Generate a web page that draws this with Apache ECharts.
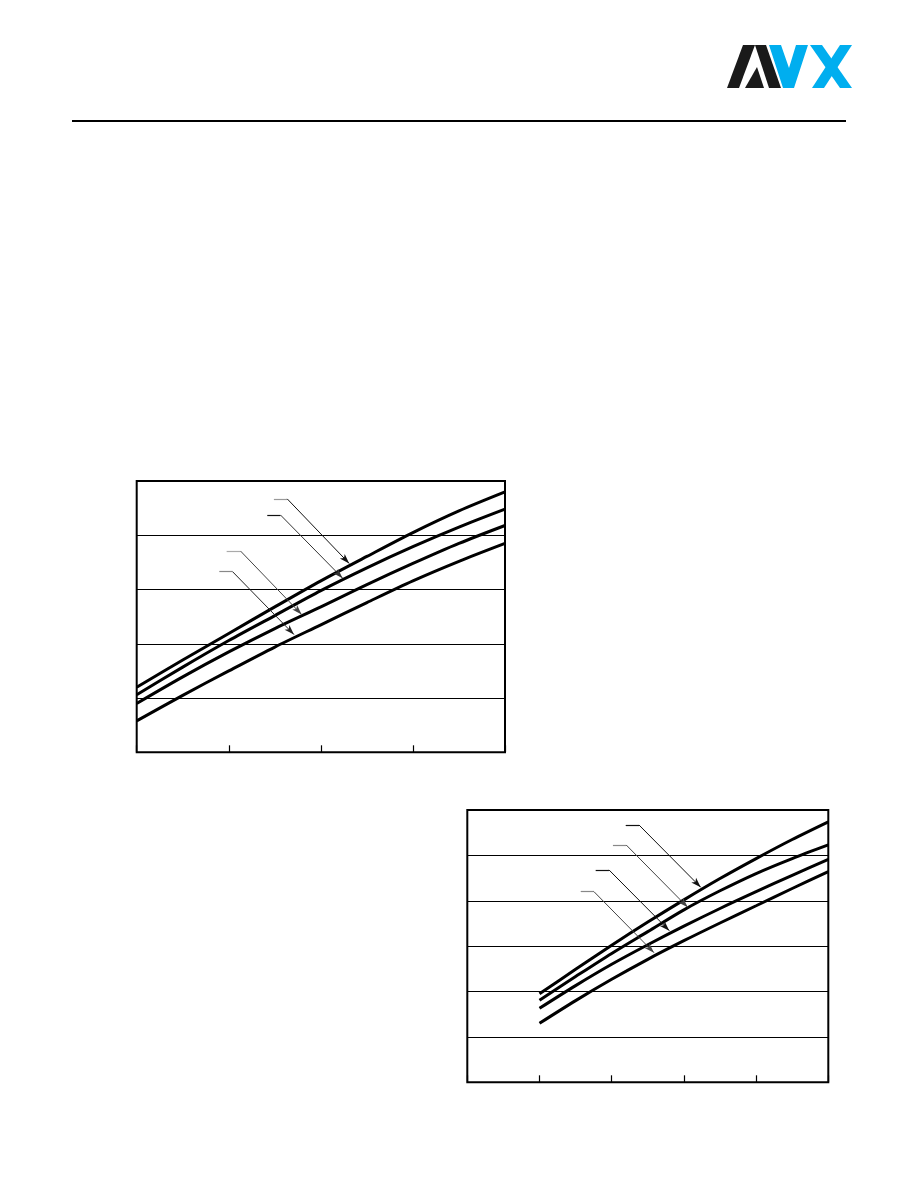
<!DOCTYPE html>
<html>
<head>
<meta charset="utf-8">
<script src="https://cdn.jsdelivr.net/npm/echarts@6/dist/echarts.min.js"></script>
<style>
html,body{margin:0;padding:0;background:#fff;}
#main{width:918px;height:1188px;}
</style>
</head>
<body>
<div id="main"></div>
<script>
// ---- Chart 1 data ----
const x1 = [0, 0.5, 1, 1.5, 2, 2.5, 3, 3.5, 4];
const c1A = [1.20, 1.70, 2.19, 2.68, 3.16, 3.61, 4.05, 4.45, 4.80];
const c1B = [1.06, 1.57, 2.06, 2.52, 2.98, 3.40, 3.79, 4.15, 4.48];
const c1C = [0.90, 1.39, 1.85, 2.28, 2.68, 3.09, 3.48, 3.85, 4.18];
const c1D = [0.58, 1.05, 1.50, 1.94, 2.35, 2.76, 3.16, 3.52, 3.85];
// leader annotations: [start, knee, tip]
const ann1 = [
  [[1.49, 4.67], [1.635, 4.67], [2.308, 3.48]],
  [[1.418, 4.373], [1.562, 4.373], [2.236, 3.21]],
  [[0.977, 3.709], [1.128, 3.709], [1.791, 2.54]],
  [[0.897, 3.329], [1.041, 3.329], [1.708, 2.17]]
];
const ann1Colors = [['#999', '#111'], ['#111', '#333'], ['#aaa', '#444'], ['#888', '#222']];

// ---- Chart 2 data ----
const x2 = [1, 1.5, 2, 2.5, 3, 3.5, 4, 4.5, 5];
const c2A = [1.95, 2.49, 3.02, 3.53, 4.02, 4.49, 4.93, 5.35, 5.74];
const c2B = [1.81, 2.33, 2.84, 3.32, 3.80, 4.22, 4.60, 4.93, 5.23];
const c2C = [1.63, 2.13, 2.60, 3.03, 3.44, 3.83, 4.20, 4.56, 4.91];
const c2D = [1.30, 1.80, 2.27, 2.71, 3.12, 3.51, 3.89, 4.27, 4.64];
const ann2 = [
  [[2.194, 5.670], [2.378, 5.670], [3.233, 4.297]],
  [[2.017, 5.229], [2.201, 5.229], [3.053, 3.856]],
  [[1.778, 4.680], [1.962, 4.680], [2.798, 3.341]],
  [[1.571, 4.200], [1.755, 4.200], [2.586, 2.856]]
];
const ann2Colors = [['#111', '#111'], ['#888', '#444'], ['#111', '#111'], ['#888', '#444']];

function pairs(xs, ys) { return xs.map((x, i) => [x, ys[i]]); }

function curve(name, xs, ys, gi) {
  return {
    name: name, type: 'line', xAxisIndex: gi, yAxisIndex: gi,
    data: pairs(xs, ys), smooth: 0.3, symbol: 'none', silent: true,
    lineStyle: { color: '#000', width: 3, cap: 'butt' }
  };
}

function leaders(anns, colors, gi) {
  const data = [];
  anns.forEach((a, i) => {
    data.push([
      { coord: a[0], symbol: 'none', lineStyle: { color: colors[i][0], width: 1.2 } },
      { coord: a[1], symbol: 'none' }
    ]);
    data.push([
      { coord: a[1], symbol: 'none', lineStyle: { color: colors[i][1], width: 1 } },
      { coord: a[2], symbol: 'arrow', symbolSize: [5, 10] }
    ]);
  });
  return {
    type: 'line', xAxisIndex: gi, yAxisIndex: gi, data: [], silent: true,
    markLine: {
      silent: true, symbol: ['none', 'none'], animation: false,
      label: { show: false }, emphasis: { disabled: true },
      lineStyle: { type: 'solid' },
      itemStyle: { color: '#111' },
      data: data
    }
  };
}

const blue = '#00AEEF';
const chart = echarts.init(document.getElementById('main'), null, { renderer: 'canvas' });
chart.setOption({
  animation: false,
  backgroundColor: '#fff',
  grid: [
    { left: 136.7, top: 481, width: 368.3, height: 271.3, show: true, borderColor: '#000', borderWidth: 2, containLabel: false },
    { left: 467.3, top: 810, width: 361, height: 272.3, show: true, borderColor: '#000', borderWidth: 2, containLabel: false }
  ],
  xAxis: [
    { gridIndex: 0, type: 'value', min: 0, max: 4, interval: 1,
      axisLine: { show: false }, axisLabel: { show: false }, splitLine: { show: false },
      axisTick: { show: true, inside: true, length: 7, lineStyle: { color: '#000', width: 1.2 } } },
    { gridIndex: 1, type: 'value', min: 0, max: 5, interval: 1,
      axisLine: { show: false }, axisLabel: { show: false }, splitLine: { show: false },
      axisTick: { show: true, inside: true, length: 7, lineStyle: { color: '#000', width: 1.2 } } }
  ],
  yAxis: [
    { gridIndex: 0, type: 'value', min: 0, max: 5, interval: 1,
      axisLine: { show: false }, axisLabel: { show: false }, axisTick: { show: false },
      splitLine: { show: true, lineStyle: { color: '#000', width: 1.2 } } },
    { gridIndex: 1, type: 'value', min: 0, max: 6, interval: 1,
      axisLine: { show: false }, axisLabel: { show: false }, axisTick: { show: false },
      splitLine: { show: true, lineStyle: { color: '#000', width: 1.2 } } }
  ],
  series: [
    curve('A1', x1, c1A, 0), curve('B1', x1, c1B, 0), curve('C1', x1, c1C, 0), curve('D1', x1, c1D, 0),
    leaders(ann1, ann1Colors, 0),
    curve('A2', x2, c2A, 1), curve('B2', x2, c2B, 1), curve('C2', x2, c2C, 1), curve('D2', x2, c2D, 1),
    leaders(ann2, ann2Colors, 1)
  ],
  graphic: [
    { type: 'line', shape: { x1: 72, y1: 121, x2: 846, y2: 121 }, style: { stroke: '#000', lineWidth: 2.2 }, silent: true },
    // logo: black slash + A
    { type: 'polygon', shape: { points: [[727,88],[739,88],[755,45],[743,45]] }, style: { fill: '#1a1a1a' }, silent: true },
    { type: 'polygon', shape: { points: [[755,45],[766,45],[781,88],[769,88]] }, style: { fill: '#1a1a1a' }, silent: true },
    { type: 'polygon', shape: { points: [[745,88],[764,88],[757,67]] }, style: { fill: '#1a1a1a' }, silent: true },
    // logo: blue V
    { type: 'polygon', shape: { points: [[769,45],[781,45],[789,68],[796,45],[808,45],[794,88],[783,88]] }, style: { fill: blue }, silent: true },
    // logo: blue X
    { type: 'polygon', shape: { points: [[810,45],[822,45],[852,88],[840,88]] }, style: { fill: blue }, silent: true },
    { type: 'polygon', shape: { points: [[812,88],[824,88],[852,45],[840,45]] }, style: { fill: blue }, silent: true }
  ]
});
</script>
</body>
</html>
